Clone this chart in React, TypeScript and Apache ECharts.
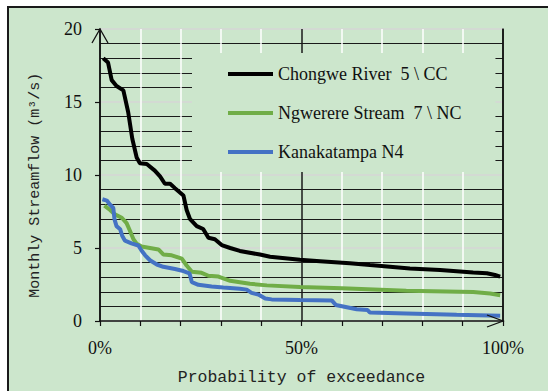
import React, { useEffect, useRef } from "react";
import * as echarts from "echarts";

const seriesNames = ["Chongwe River  5 \\ CC", "Ngwerere Stream  7 \\ NC", "Kanakatampa N4"];

const chongweP = [0.8, 2.0, 2.9, 4.1, 5.8, 7.0, 8.0, 9.1, 9.9, 11.6, 13.6, 14.9, 16.1, 17.4, 18.6, 20.7, 21.5, 22.3, 24.0, 25.6, 26.9, 28.5, 30.2, 32.3, 34.7, 39.7, 42.2, 49.6, 54.6, 62.0, 67.0, 76.9, 84.4, 92.6, 96.0, 98.0, 99.3];
const chongweQ = [18.0, 17.7, 16.5, 16.1, 15.8, 14.3, 12.5, 11.2, 10.8, 10.75, 10.3, 9.9, 9.4, 9.4, 9.1, 8.6, 7.6, 7.0, 6.5, 6.3, 5.7, 5.6, 5.2, 5.0, 4.8, 4.55, 4.4, 4.2, 4.1, 3.95, 3.83, 3.6, 3.5, 3.33, 3.27, 3.15, 3.04];

const ngwerereP = [1.1, 2.5, 3.7, 5.4, 6.6, 7.4, 8.3, 9.1, 10.3, 12.4, 14.5, 15.7, 17.8, 20.3, 21.5, 22.8, 25.2, 26.9, 29.4, 32.3, 34.7, 37.2, 41.4, 49.6, 60.0, 76.0, 92.6, 96.8, 99.3];
const ngwerereQ = [7.9, 7.6, 7.3, 7.07, 6.7, 6.2, 5.6, 5.3, 5.1, 5.0, 4.9, 4.56, 4.5, 4.27, 3.8, 3.37, 3.3, 3.1, 3.04, 2.75, 2.66, 2.55, 2.44, 2.33, 2.25, 2.08, 1.99, 1.88, 1.77];

const kanakaP = [0.6, 1.7, 2.5, 3.3, 3.6, 4.1, 5.0, 5.5, 6.2, 7.8, 9.5, 10.3, 11.2, 12.4, 14.1, 15.7, 18.6, 20.7, 22.2, 22.8, 24.4, 27.7, 30.6, 34.7, 36.4, 37.6, 39.3, 41.0, 42.6, 49.6, 57.5, 58.5, 63.7, 66.4, 67.0, 76.0, 88.5, 99.3];
const kanakaQ = [8.34, 8.25, 7.97, 7.74, 6.96, 6.5, 6.29, 5.84, 5.5, 5.32, 5.17, 4.83, 4.5, 4.16, 3.87, 3.71, 3.56, 3.42, 3.27, 2.66, 2.48, 2.37, 2.3, 2.21, 2.15, 1.93, 1.81, 1.54, 1.48, 1.43, 1.41, 1.1, 0.8, 0.75, 0.58, 0.52, 0.42, 0.36];

const xTicksShown = [0, 50, 100];
const seriesColors = ["#000000", "#70ad47", "#4472c4"];

const zip = (a: number[], b: number[]) => a.map((v, i) => [v, b[i]]);

export default function App() {
  const ref = useRef<HTMLDivElement>(null);
  useEffect(() => {
    if (!ref.current) return;
    const chart = echarts.init(ref.current, undefined, { renderer: "svg" });
    const serif = "Liberation Serif";
    const mono = "Liberation Mono";
    const vColors = Array.from({ length: 11 }, (_, i) => (i % 5 === 0 ? "#1a1a1a" : "#ffffff"));
    const datasets = [zip(chongweP, chongweQ), zip(ngwerereP, ngwerereQ), zip(kanakaP, kanakaQ)];
    chart.setOption({
      animation: false,
      grid: { left: 100, right: 45, top: 29, bottom: 64 },
      legend: {
        left: 192,
        top: 53,
        orient: "vertical",
        backgroundColor: "#cce6cc",
        padding: [12, 34, 11, 36],
        itemGap: 21,
        itemWidth: 45,
        itemHeight: 4,
        icon: "rect",
        textStyle: { fontFamily: serif, fontSize: 18, lineHeight: 18, color: "#111" },
        data: seriesNames,
      },
      xAxis: {
        type: "value",
        min: 0,
        max: 100,
        interval: 10,
        axisLine: { show: true, lineStyle: { color: "#111", width: 1.5 } },
        axisTick: { show: true, length: 5, lineStyle: { color: "#111", width: 1.2 } },
        axisLabel: {
          margin: 18,
          fontFamily: serif,
          fontSize: 18,
          color: "#111",
          formatter: (v: number) => (xTicksShown.includes(v) ? v + "%" : ""),
        },
        splitLine: { show: true, lineStyle: { color: vColors, width: 1.5 } },
        name: "Probability of exceedance",
        nameLocation: "middle",
        nameGap: 48,
        nameTextStyle: { fontFamily: mono, fontSize: 16.5, color: "#222" },
      },
      yAxis: [
        {
          type: "value",
          min: 0,
          max: 20,
          interval: 5,
          axisLine: { show: true, lineStyle: { color: "#111", width: 1.5 } },
          axisTick: { show: true, length: 5, lineStyle: { color: "#111", width: 1.2 } },
          axisLabel: { margin: 18, fontFamily: serif, fontSize: 18, color: "#111" },
          splitLine: { show: true, lineStyle: { color: "#d6d6d6", width: 1.5 } },
          minorTick: { show: false, splitNumber: 5 },
          minorSplitLine: { show: true, lineStyle: { color: "#1a1a1a", width: 1.2 } },
        },
        {
          type: "value",
          position: "right",
          min: 0,
          max: 20,
          interval: 5,
          axisLine: { show: true, lineStyle: { color: "#111", width: 1.5 } },
          axisTick: { show: false },
          axisLabel: { show: false },
          splitLine: { show: false },
        },
      ],
      series: datasets.map((d, i) => ({
        name: seriesNames[i],
        type: "line",
        data: d,
        showSymbol: false,
        symbol: "none",
        lineStyle: { color: seriesColors[i], width: 4 },
        itemStyle: { color: seriesColors[i] },
        z: 3,
      })),
    });
    const topPt = chart.convertToPixel({ xAxisIndex: 0, yAxisIndex: 0 }, [0, 20]) as number[];
    const endPt = chart.convertToPixel({ xAxisIndex: 0, yAxisIndex: 0 }, [100, 0]) as number[];
    const midY = (chart.convertToPixel({ xAxisIndex: 0, yAxisIndex: 0 }, [0, 9.3]) as number[])[1];
    chart.setOption({
      graphic: [
        {
          type: "polyline",
          shape: { points: [[topPt[0] - 8, topPt[1] + 14], [topPt[0], topPt[1]], [topPt[0] + 8, topPt[1] + 14]] },
          style: { stroke: "#111", lineWidth: 1.3, fill: "none" },
          z: 10,
        },
        {
          type: "polyline",
          shape: { points: [[endPt[0] - 16, endPt[1] - 6], [endPt[0], endPt[1]], [endPt[0] - 16, endPt[1] + 6]] },
          style: { stroke: "#111", lineWidth: 1.3, fill: "none" },
          z: 10,
        },
        {
          type: "text",
          x: 35,
          y: midY,
          rotation: Math.PI / 2,
          style: {
            text: "Monthly Streamflow (m³/s)",
            fontFamily: mono,
            fontSize: 15,
            fill: "#222",
            align: "center",
            verticalAlign: "middle",
          },
          z: 10,
        },
      ],
    });
    return () => chart.dispose();
  }, []);
  return (
    <div style={{ position: "fixed", left: 0, top: 0, width: 548, height: 391, background: "#ffffff", overflow: "hidden" }}>
      <div
        style={{
          position: "absolute",
          left: 7,
          top: 6,
          width: 600,
          height: 500,
          background: "#cce6cc",
          border: "2px solid #1a1a1a",
          boxSizing: "border-box",
        }}
      />
      <div ref={ref} style={{ position: "absolute", left: 0, top: 0, width: 548, height: 391 }} />
    </div>
  );
}
